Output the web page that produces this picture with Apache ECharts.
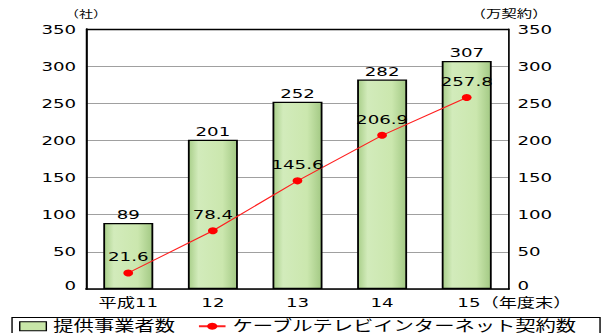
<!DOCTYPE html>
<html>
<head>
<meta charset="utf-8">
<script src="https://cdn.jsdelivr.net/npm/echarts@6/dist/echarts.min.js"></script>
<style>
  html, body { margin: 0; padding: 0; background: #fff; overflow: hidden; }
  /* the chart is laid out narrow and widened, giving the broad lettering of the printed figure */
  #chart { width: 430px; height: 333px; transform: scaleX(1.4); transform-origin: 0 0; }
</style>
</head>
<body>
<div id="chart"></div>
<script>
// Fiscal-year categories
const categories = ['平成11', '12', '13', '14', '15（年度末）'];
// Number of providers (社)
const providers = [89, 201, 252, 282, 307];
// Cable TV internet subscriptions (万契約)
const subscriptions = [21.6, 78.4, 145.6, 206.9, 257.8];
// Axis scale
const axisMin = 0;
const axisMax = 350;
const axisStep = 50;

const FONT = '"DejaVu Sans", "Noto Sans CJK JP", sans-serif';
const chart = echarts.init(document.getElementById('chart'), null, { renderer: 'svg' });

const barFill = new echarts.graphic.LinearGradient(0, 0, 1, 0, [
  { offset: 0, color: '#a9cf8a' },
  { offset: 0.2, color: '#d2ebbb' },
  { offset: 0.7, color: '#cbe7ae' },
  { offset: 1, color: '#a3c984' }
]);

// the last category label sits to the right so its year stays under the bar
const categoryData = categories.map((c, i) =>
  i === categories.length - 1 ? { value: c, textStyle: { padding: [0, 0, 0, 68] } } : c
);

// value-axis labels; the zero label is lifted off the category axis line
const valueLabel = (margin) => ({
  fontSize: 13, lineHeight: 12, color: '#000', margin: margin,
  formatter: (v) => (v === axisMin ? '{zero|' + v + '}' : String(v)),
  rich: { zero: { fontSize: 13, lineHeight: 10, padding: [0, 0, 8, 0] } }
});

chart.setOption({
  animation: false,
  textStyle: { fontFamily: FONT, color: '#000' },
  grid: { left: 61.4, right: 66.4, top: 29, bottom: 44 },
  legend: {
    left: 13.6, top: 319,
    width: 420,
    padding: 0,
    itemGap: 16,
    itemWidth: 19, itemHeight: 9,
    textStyle: { fontSize: 14.5, lineHeight: 13, fontFamily: FONT, color: '#000' },
    data: [
      { name: '提供事業者数', icon: 'rect', itemStyle: { color: '#c8e6a8', borderColor: '#000', borderWidth: 1 } },
      { name: 'ケーブルテレビインターネット契約数', itemStyle: { color: '#ff0000' } }
    ]
  },
  xAxis: {
    type: 'category',
    data: categoryData,
    axisLine: { lineStyle: { color: '#000', width: 1.5 } },
    axisTick: { inside: true, length: 4, lineStyle: { color: '#000', width: 0.8 } },
    axisLabel: { interval: 0, fontSize: 13, lineHeight: 10, color: '#000', margin: 8 }
  },
  yAxis: [
    {
      type: 'value', min: axisMin, max: axisMax, interval: axisStep,
      name: '（社）', nameGap: 9,
      nameTextStyle: { fontSize: 10, color: '#000', align: 'center' },
      axisLine: { show: true, lineStyle: { color: '#000', width: 1.5 } },
      axisTick: { show: false },
      axisLabel: valueLabel(7),
      splitLine: { lineStyle: { color: '#a0a0a0', width: 1 } }
    },
    {
      type: 'value', min: axisMin, max: axisMax, interval: axisStep,
      name: '（万契約）', nameGap: 9,
      nameTextStyle: { fontSize: 11, color: '#000', align: 'center' },
      axisLine: { show: true, lineStyle: { color: '#000', width: 1.2 } },
      axisTick: { show: false },
      axisLabel: valueLabel(6),
      splitLine: { show: false }
    }
  ],
  graphic: [
    // top frame line of the plot area
    { type: 'line', shape: { x1: 61.4, y1: 29.5, x2: 363.6, y2: 29.5 }, style: { stroke: '#000', lineWidth: 1.5 }, z: 10 },
    // legend frame
    { type: 'rect', shape: { x: 8.6, y: 317.5, width: 420, height: 20 }, style: { fill: 'none', stroke: '#000', lineWidth: 1 }, z: 10 }
  ],
  series: [
    {
      name: '提供事業者数',
      type: 'bar',
      yAxisIndex: 0,
      data: providers,
      barWidth: 35.7,
      itemStyle: { color: barFill, borderColor: '#000', borderWidth: 1.3 },
      label: { show: true, position: 'top', distance: 2, fontSize: 13, color: '#000' },
      z: 2
    },
    {
      name: 'ケーブルテレビインターネット契約数',
      type: 'line',
      yAxisIndex: 1,
      data: subscriptions,
      symbol: 'circle',
      symbolSize: 7,
      lineStyle: { color: '#ff2020', width: 1 },
      itemStyle: { color: '#ff0000' },
      label: { show: true, position: 'top', distance: 6, fontSize: 13, color: '#000' },
      z: 3
    }
  ]
});
</script>
</body>
</html>
